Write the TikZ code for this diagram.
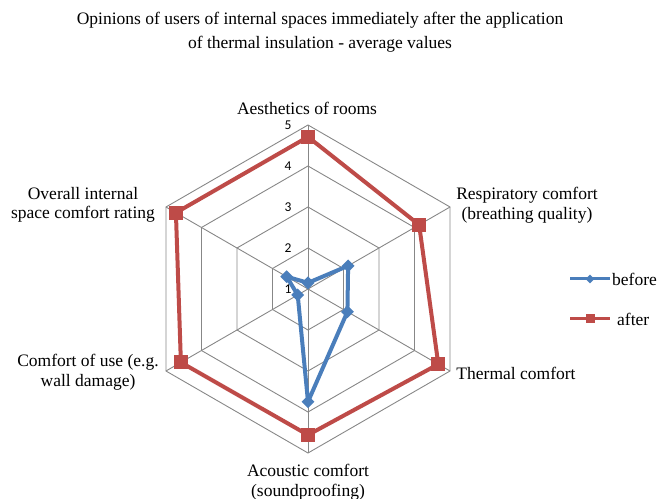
\documentclass[tikz,border=0pt]{standalone}
\usepackage{fontspec}
\setmainfont{Liberation Serif}
\newfontfamily\timesfont{Liberation Serif}
\newfontfamily\tickfont{Carlito}
\usetikzlibrary{positioning,shapes.geometric,calc}
\definecolor{beforeblue}{HTML}{4A7EBB}
\definecolor{afterred}{HTML}{BE4B48}
\definecolor{gridgray}{HTML}{878787}

\begin{document}
\begin{tikzpicture}[x=1pt, y=1pt]
\tikzstyle{grid} = [draw=gridgray, line width=0.9pt]
\tikzstyle{axislabel} = [font=\timesfont\fontsize{17.5}{19.5}\selectfont, align=center]
\tikzstyle{tick} = [font=\tickfont\fontsize{13.5}{14}\selectfont]
\tikzstyle{serie} = [line width=4pt, line join=round]
\tikzstyle{diam} = [diamond, aspect=1, fill=beforeblue, inner sep=0pt, minimum size=13pt]
\tikzstyle{box} = [rectangle, fill=afterred, inner sep=0pt, minimum size=14pt]
%
\useasboundingbox (0,0) rectangle (661,498);
\node (title) [axislabel, font=\timesfont\fontsize{17.5}{24}\selectfont] at (320,466)
  {Opinions of users of internal spaces immediately after the application\\of thermal insulation - average values};
%
\begin{scope}[shift={(308,209)}]
% hexagon rings and spokes
\foreach \r in {1,...,4}
  \draw [grid] (90:{\r*41}) -- (30:{\r*41}) -- (-30:{\r*41}) -- (-90:{\r*41})
               -- (-150:{\r*41}) -- (150:{\r*41}) -- cycle;
\foreach \a in {90,30,-30,-90,-150,150}
  \draw [grid] (0,0) -- (\a:164);
\foreach \v in {1,...,5}
  \node (t\v) [tick] at (-20,{(\v-1)*41}) {\v};
%
\node (1) [axislabel] at (-1,181)   {Aesthetics of rooms};
\node (2) [axislabel] at (219,84)   {Respiratory comfort\\(breathing quality)};
\node (3) [axislabel] at (208,-84)  {Thermal comfort};
\node (4) [axislabel] at (0,-193)   {Acoustic comfort\\(soundproofing)};
\node (5) [axislabel] at (-220,-83) {Comfort of use (e.g.\\wall damage)};
\node (6) [axislabel] at (-225,84)  {Overall internal\\space comfort rating};
%
\coordinate (b1) at (90:{0.15*41});
\coordinate (b2) at (30:{1.13*41});
\coordinate (b3) at (-30:{1.11*41});
\coordinate (b4) at (-90:{2.75*41});
\coordinate (b5) at (-150:{0.29*41});
\coordinate (b6) at (150:{0.60*41});
\coordinate (a1) at (90:{3.71*41});
\coordinate (a2) at (30:{3.13*41});
\coordinate (a3) at (-30:{3.67*41});
\coordinate (a4) at (-90:{3.56*41});
\coordinate (a5) at (-150:{3.58*41});
\coordinate (a6) at (150:{3.72*41});
%
\draw [serie, beforeblue] (b1) -- (b2) -- (b3) -- (b4) -- (b5) -- (b6) -- cycle;
\draw [serie, afterred] (a1) -- (a2) -- (a3) -- (a4) -- (a5) -- (a6) -- cycle;
\foreach \i in {1,...,6} {
  \node (mb\i) [diam] at (b\i) {};
  \node (ma\i) [box] at (a\i) {};
}
\end{scope}
%
\coordinate (lb1) at (570,219);
\coordinate (lb2) at (610,219);
\coordinate (la1) at (570,179);
\coordinate (la2) at (610,179);
\draw [beforeblue, line width=3pt] (lb1) -- (lb2);
\draw [afterred, line width=3pt] (la1) -- (la2);
\node (mlb) [diam, minimum size=9pt] at ($(lb1)!0.5!(lb2)$) {};
\node (mla) [box, minimum size=9pt] at ($(la1)!0.5!(la2)$) {};
\node (before) [axislabel, inner sep=0pt, right=2pt of lb2] {before};
\node (after) [axislabel, inner sep=0pt, right=7pt of la2] {after};
\end{tikzpicture}
\end{document}
